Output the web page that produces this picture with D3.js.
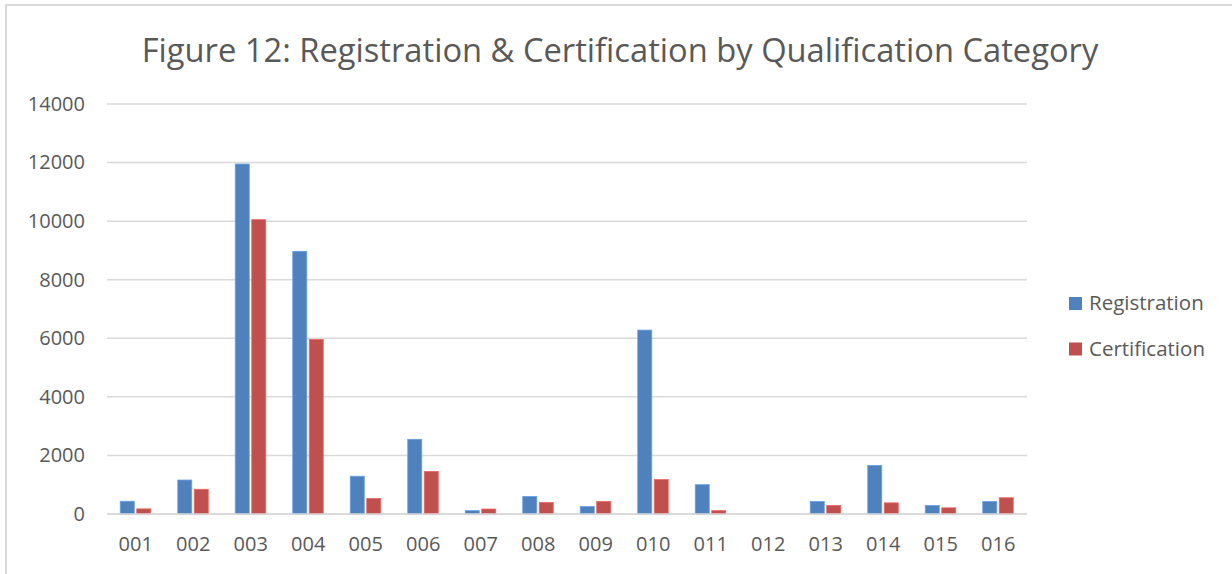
<!DOCTYPE html>
<html>
<head>
<meta charset="utf-8">
<script src="https://cdn.jsdelivr.net/npm/d3@7"></script>
<style>
  html, body { margin: 0; padding: 0; background: #fff; }
  text { font-family: "Open Sans", "Noto Sans", sans-serif; fill: #595959; }
</style>
</head>
<body>
<div id="chart"></div>
<script>
// chart data
const categories = ['001', '002', '003', '004', '005', '006', '007', '008',
                    '009', '010', '011', '012', '013', '014', '015', '016'];
const seriesNames = ['Registration', 'Certification'];
const registration = [435, 1160, 11950, 8970, 1290, 2550, 115, 600,
                      255, 6280, 1000, 0, 425, 1660, 290, 425];
const certification = [175, 845, 10050, 5960, 530, 1450, 170, 390,
                       425, 1175, 115, 0, 290, 380, 210, 555];
const yTicks = [0, 2000, 4000, 6000, 8000, 10000, 12000, 14000];
const titleText = 'Figure 12: Registration & Certification by Qualification Category';

const width = 1232, height = 574;
const margin = { left: 107, right: 205, top: 104, bottom: 60 };
const colors = d3.scaleOrdinal().domain(seriesNames).range(['#4f81bd', '#c0504d']);

const rows = categories.map((c, i) => ({
   cat: c,
   values: [
      { key: seriesNames[0], value: registration[i] },
      { key: seriesNames[1], value: certification[i] }
   ]
}));

const svg = d3.select('#chart').append('svg')
   .attr('width', width)
   .attr('height', height);

// outer chart frame
svg.append('rect')
   .attr('x', 6).attr('y', 5)
   .attr('width', width + 10).attr('height', height + 10)
   .attr('fill', 'none')
   .attr('stroke', '#d9d9d9')
   .attr('stroke-width', 2);

const x = d3.scaleBand()
   .domain(categories)
   .range([margin.left, width - margin.right]);

const xSub = d3.scaleBand()
   .domain(seriesNames)
   .range([x.bandwidth() / 2 - 15.5, x.bandwidth() / 2 + 15])
   .paddingInner(0.15);

const y = d3.scaleLinear()
   .domain([0, 14000])
   .range([height - margin.bottom, margin.top]);

// gridlines
svg.append('g')
   .selectAll('line')
   .data(yTicks)
   .join('line')
      .attr('x1', margin.left)
      .attr('x2', width - margin.right)
      .attr('y1', d => y(d))
      .attr('y2', d => y(d))
      .attr('stroke', '#d9d9d9')
      .attr('stroke-width', 1.5);

// y axis labels
const yAxis = svg.append('g')
   .attr('transform', `translate(${margin.left}, 0)`)
   .call(d3.axisLeft(y).tickValues(yTicks).tickFormat(d3.format('d')).tickSize(0).tickPadding(22));
yAxis.select('.domain').remove();
yAxis.selectAll('text')
   .attr('font-size', 20)
   .attr('font-family', null)
   .attr('fill', '#595959');

// bars
const groups = svg.append('g')
   .selectAll('g')
   .data(rows)
   .join('g')
      .attr('transform', d => `translate(${x(d.cat)}, 0)`);

groups.selectAll('rect')
   .data(d => d.values)
   .join('rect')
      .attr('x', d => xSub(d.key))
      .attr('width', xSub.bandwidth())
      .attr('y', d => y(d.value))
      .attr('height', d => y(0) - y(d.value))
      .attr('fill', d => colors(d.key))
      .attr('stroke', d => d3.color(colors(d.key)).brighter(0.6))
      .attr('stroke-width', d => d.value > 0 ? 0.8 : 0);

// x axis line and labels
svg.append('line')
   .attr('x1', margin.left)
   .attr('x2', width - margin.right)
   .attr('y1', y(0))
   .attr('y2', y(0))
   .attr('stroke', '#d9d9d9')
   .attr('stroke-width', 1.5);

const xAxis = svg.append('g')
   .attr('transform', `translate(0, ${y(0)})`)
   .call(d3.axisBottom(x).tickSize(0).tickPadding(23));
xAxis.select('.domain').remove();
xAxis.selectAll('text')
   .attr('font-size', 20)
   .attr('font-family', null)
   .attr('fill', '#595959');

// title, sized to span the same width as the original
const title = svg.append('text')
   .attr('x', 620)
   .attr('y', 62)
   .attr('text-anchor', 'middle')
   .attr('font-size', 28)
   .text(titleText);
const tw = title.node().getComputedTextLength();
title.attr('font-size', 28 * 957 / tw);

// legend
const legend = svg.append('g')
   .attr('transform', 'translate(1069, 297)');

const legendRow = legend.selectAll('g')
   .data(seriesNames)
   .join('g')
      .attr('transform', (d, i) => `translate(0, ${i * 45.5})`);

legendRow.append('rect')
   .attr('width', 13)
   .attr('height', 13)
   .attr('fill', d => colors(d));

legendRow.append('text')
   .attr('x', 20)
   .attr('y', 13)
   .attr('font-size', 20.5)
   .text(d => d);
</script>
</body>
</html>
